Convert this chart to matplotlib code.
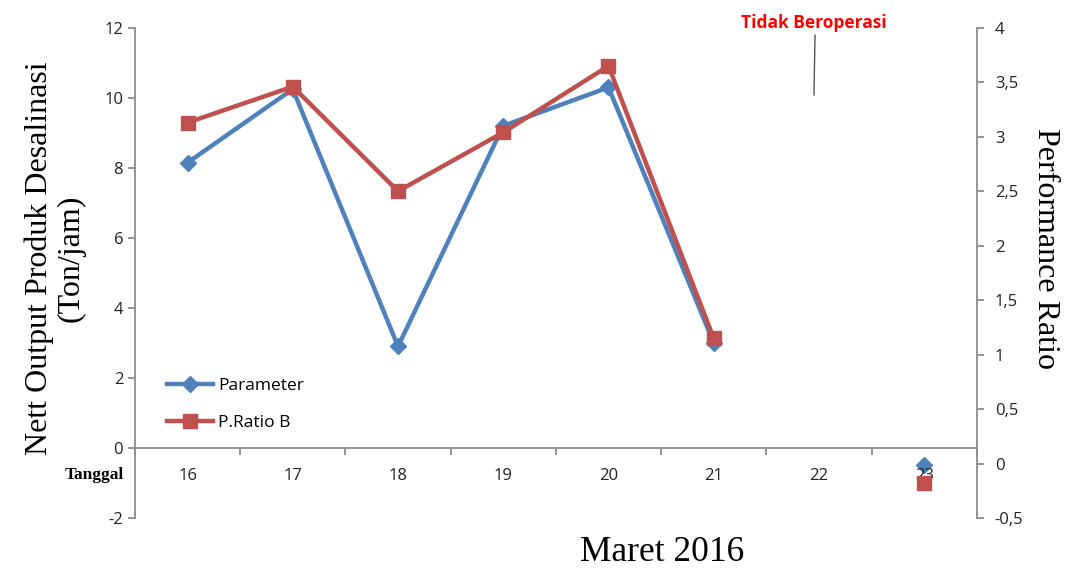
import numpy as np
import matplotlib
matplotlib.use("Agg")
import matplotlib.pyplot as plt
from matplotlib.ticker import FuncFormatter

plt.rcParams["axes.unicode_minus"] = False

# data
tanggal = ["16", "17", "18", "19", "20", "21", "22", "23"]
parameter = [8.15, 10.25, 2.9, 9.2, 10.3, 3.0, np.nan, -0.5]
pratio_b = [3.13, 3.46, 2.5, 3.04, 3.65, 1.15, np.nan, -0.18]

blue = "#4F81BD"
red = "#C0504D"
grey = "#8C8C8C"
tick_font = "Open Sans"

x = np.arange(len(tanggal))

fig = plt.figure(figsize=(10.71, 5.68), dpi=100)
ax = fig.add_axes([0.126, 0.088, 0.786, 0.863])
ax2 = ax.twinx()

l1, = ax.plot(x, parameter, color=blue, lw=3.2, marker="D", ms=8, zorder=3)
l2, = ax2.plot(x, pratio_b, color=red, lw=3.2, marker="s", ms=10, zorder=3)

ax.set_xlim(-0.5, len(tanggal) - 0.5)
ax.set_ylim(-2, 12)
ax.set_yticks(np.arange(-2, 13, 2))
ax2.set_ylim(-0.5, 4)
ax2.set_yticks(np.arange(-0.5, 4.01, 0.5))
ax2.yaxis.set_major_formatter(FuncFormatter(
    lambda v, p: ("%g" % v).replace(".", ",")))

# category axis crossing at 0 of the primary axis
ax.spines["bottom"].set_position(("data", 0))
ax.set_xticks(np.arange(-0.5, len(tanggal) - 0.4, 1))
ax.set_xticklabels([])
for xi, lab in zip(x, tanggal):
    ax.text(xi, -0.8, lab, ha="center", va="center", fontsize=12,
            family=tick_font, color="#222222")

for a in (ax, ax2):
    for s in a.spines.values():
        s.set_color(grey)
        s.set_linewidth(1.3)
    a.spines["top"].set_visible(False)
ax.spines["right"].set_visible(False)
ax2.spines["left"].set_visible(False)
ax2.spines["bottom"].set_visible(False)

ax.tick_params(axis="x", which="major", direction="out", length=5, color=grey,
               width=1.3)
ax.tick_params(axis="y", direction="out", length=5, color=grey, width=1.3,
               labelsize=12, labelcolor="#222222")
ax2.tick_params(axis="y", direction="out", length=5, color=grey, width=1.3,
                labelsize=12, labelcolor="#222222", pad=8)
for lab in ax.get_yticklabels() + ax2.get_yticklabels():
    lab.set_family(tick_font)

ax.set_ylabel("Nett Output Produk Desalinasi\n(Ton/jam)", family="Liberation Serif",
              fontsize=23, linespacing=1.1)
ax.yaxis.set_label_coords(-0.059, 0.53)
ax2.set_ylabel("Performance Ratio", family="Liberation Serif", fontsize=23,
               rotation=-90)
ax2.yaxis.set_label_coords(1.099, 0.55)
fig.text(0.618, 0.027, "Maret 2016", family="Liberation Serif", fontsize=25.5,
         ha="center", va="center")
fig.text(0.088, 0.163, "Tanggal", family="Liberation Serif", fontsize=12.5,
         weight="bold", ha="center", va="center")

ax.legend([l1, l2], ["Parameter", "P.Ratio B"], loc="lower left",
          bbox_to_anchor=(0.02, 0.145), frameon=False,
          prop={"family": tick_font, "size": 12.5}, handlelength=2.6,
          labelspacing=1.2, handletextpad=0.3)

fig.text(0.76, 0.96, "Tidak Beroperasi", color="#FF0000", weight="bold",
         family=tick_font, fontsize=12.5, ha="center", va="center")
fig.add_artist(plt.Line2D([0.761, 0.760], [0.938, 0.833], color="#555555",
                          lw=1.0, transform=fig.transFigure))

fig.savefig("out.png", dpi=100)
